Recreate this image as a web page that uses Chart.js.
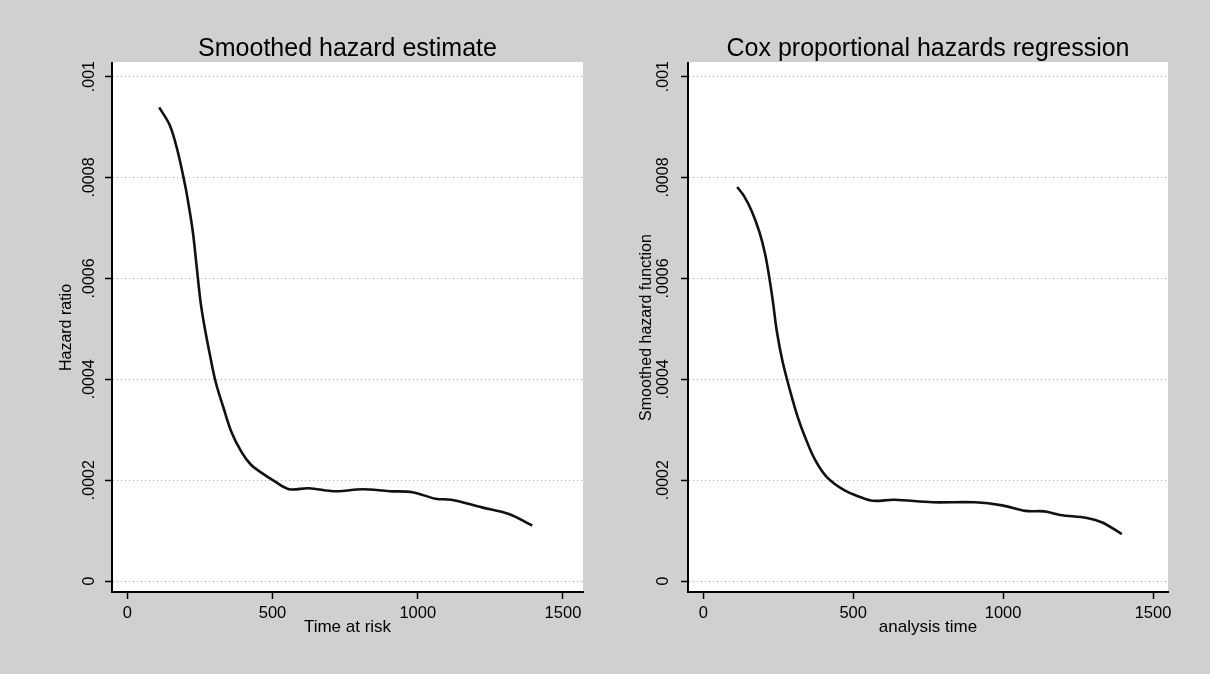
<!DOCTYPE html>
<html>
<head>
<meta charset="utf-8">
<script src="https://cdn.jsdelivr.net/npm/chart.js@4/dist/chart.umd.min.js"></script>
<style>
  html, body { margin: 0; padding: 0; }
  body { width: 1210px; height: 674px; background: #d0d0d0; position: relative; overflow: hidden; }
  .panel { position: absolute; top: 0; width: 605px; height: 674px; }
</style>
</head>
<body>
<div class="panel" style="left:0"><canvas id="left" width="605" height="674"></canvas></div>
<div class="panel" style="left:605px"><canvas id="right" width="605" height="674"></canvas></div>
<script>
// data
const hazardTime = [110, 146, 173, 199, 212, 226, 239, 252, 266, 286, 305, 332, 359, 392, 425, 464, 504, 557, 624, 717, 810, 903, 982, 1062, 1115, 1221, 1314, 1394];
const hazardValue = [0.000939, 0.000904, 0.000853, 0.000785, 0.000743, 0.000691, 0.000623, 0.000555, 0.000504, 0.000444, 0.000393, 0.000342, 0.000295, 0.000257, 0.000231, 0.000214, 0.000199, 0.000182, 0.000184, 0.000178, 0.000182, 0.000178, 0.000176, 0.000163, 0.000161, 0.000146, 0.000133, 0.000110];

const coxTime = [113, 135, 161, 187, 206, 219, 232, 245, 264, 290, 315, 341, 373, 412, 470, 521, 566, 637, 765, 907, 997, 1074, 1138, 1190, 1280, 1331, 1396];
const coxValue = [0.000781, 0.000764, 0.000734, 0.000692, 0.000649, 0.000606, 0.000555, 0.000496, 0.000436, 0.000376, 0.000325, 0.000283, 0.000240, 0.000206, 0.000180, 0.000167, 0.000159, 0.000161, 0.000156, 0.000156, 0.000150, 0.000139, 0.000138, 0.000131, 0.000125, 0.000116, 0.000093];

const xTicks = [0, 500, 1000, 1500];
const yTicks = [0, 0.0002, 0.0004, 0.0006, 0.0008, 0.001];

const FONT = "'Liberation Sans', Arial, Helvetica, sans-serif";

// stata style: ".0002", "0"
const stataLabel = v => v === 0 ? '0' : String(+v.toFixed(4)).replace(/^0/, '');

const whitePlot = {
  id: 'whitePlot',
  beforeDraw(chart) {
    const {ctx, chartArea: a} = chart;
    ctx.save();
    ctx.fillStyle = '#ffffff';
    ctx.fillRect(a.left, a.top - 1, a.right - a.left, a.bottom - a.top + 1);
    ctx.restore();
  }
};

function makeChart(id, opts) {
  const points = opts.xs.map((x, i) => ({x: x, y: opts.ys[i]}));
  return new Chart(document.getElementById(id), {
    type: 'line',
    data: {
      datasets: [{
        data: points,
        borderColor: '#111',
        borderWidth: 2.6,
        pointRadius: 0,
        tension: 0.35,
        fill: false
      }]
    },
    plugins: [whitePlot],
    options: {
      responsive: false,
      animation: false,
      layout: {padding: {left: 0, right: opts.padRight, top: 0, bottom: 0}},
      plugins: {
        legend: {display: false},
        tooltip: {enabled: false},
        title: {
          display: true,
          text: opts.title,
          fullSize: false,
          color: '#000',
          font: {family: FONT, size: 25, weight: 'normal', lineHeight: 1},
          padding: {top: 37, bottom: 1}
        }
      },
      scales: {
        x: {
          type: 'linear',
          min: opts.xMin,
          max: opts.xMax,
          afterBuildTicks: s => { s.ticks = xTicks.map(v => ({value: v})); },
          afterFit: s => { s.height = 82; },
          grid: {drawOnChartArea: false, drawTicks: true, tickLength: 7, tickColor: '#000', tickWidth: 1.5},
          border: {display: true, color: '#000', width: 2},
          ticks: {color: '#000', font: {family: FONT, size: 16.5}, padding: 5, maxRotation: 0, callback: v => String(v)},
          title: {
            display: true,
            text: opts.xTitle,
            color: '#000',
            font: {family: FONT, size: 17, lineHeight: 1},
            padding: {top: 0, bottom: 38}
          }
        },
        y: {
          type: 'linear',
          min: -0.0000218,
          max: 0.001027,
          afterBuildTicks: s => { s.ticks = yTicks.map(v => ({value: v})); },
          afterFit: s => { s.width = opts.yWidth; },
          grid: {color: '#a6a6a6', lineWidth: 1, drawTicks: true, tickLength: 7, tickColor: '#000', tickWidth: 1.5},
          border: {display: true, color: '#000', width: 2, dash: [1, 3]},
          ticks: {
            color: '#000',
            font: {family: FONT, size: 16},
            minRotation: 90,
            maxRotation: 90,
            crossAlign: 'center',
            padding: opts.yTickPad,
            callback: v => stataLabel(v)
          },
          title: {
            display: true,
            text: opts.yTitle,
            color: '#000',
            font: {family: FONT, size: 16, lineHeight: 1},
            padding: {top: opts.yTitlePad, bottom: 0}
          }
        }
      }
    }
  });
}

makeChart('left', {
  xs: hazardTime, ys: hazardValue,
  title: 'Smoothed hazard estimate',
  xTitle: 'Time at risk',
  yTitle: 'Hazard ratio',
  xMin: -52.6, xMax: 1569,
  padRight: 22, yWidth: 112, yTickPad: -5, yTitlePad: 59
});

makeChart('right', {
  xs: coxTime, ys: coxValue,
  title: 'Cox proportional hazards regression',
  xTitle: 'analysis time',
  yTitle: 'Smoothed hazard function',
  xMin: -51, xMax: 1550,
  padRight: 42, yWidth: 83, yTickPad: -3, yTitlePad: 34
});
</script>
</body>
</html>
